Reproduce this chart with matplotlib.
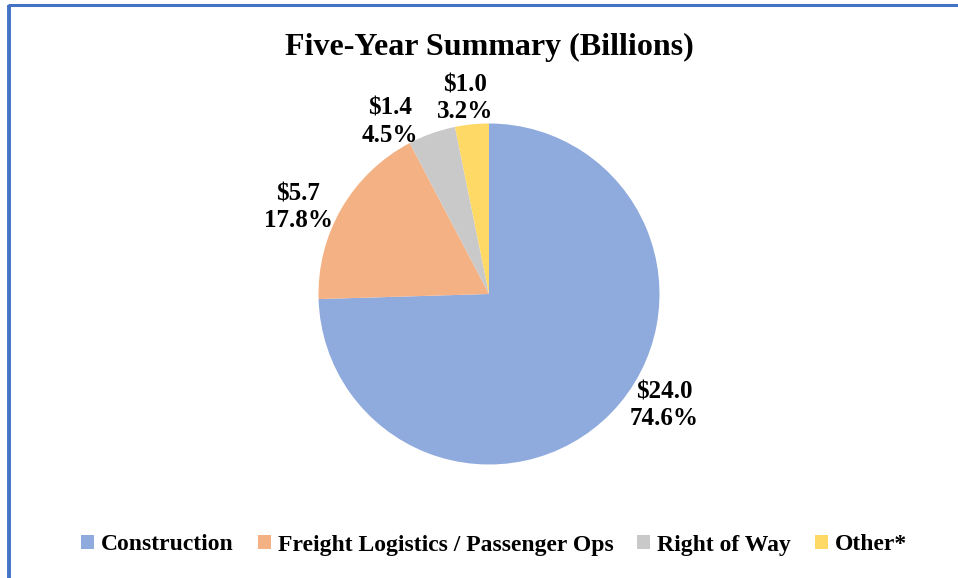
import matplotlib
matplotlib.use("Agg")
import matplotlib.pyplot as plt
from matplotlib.lines import Line2D
from matplotlib.patches import Patch

categories = ["Construction", "Freight Logistics / Passenger Ops", "Right of Way", "Other*"]
dollars = [24.0, 5.7, 1.4, 1.0]
percents = [74.6, 17.8, 4.5, 3.2]
colors = ["#8FAADC", "#F4B183", "#C9C9C9", "#FFD966"]
title = "Five-Year Summary (Billions)"

# label positions (axes data units, pie radius = 1)
label_pos = [(1.03, -0.65), (-1.12, 0.51), (-0.58, 1.01), (-0.14, 1.15)]

plt.rcParams['font.family'] = ['Liberation Serif', 'DejaVu Serif']
W, H = 958, 578
fig = plt.figure(figsize=(W / 100, H / 100), dpi=100)

cx, cy, r = 489, 294, 170.5
ax = fig.add_axes([(cx - r) / W, 1 - (cy + r) / H, 2 * r / W, 2 * r / H])
wedges, _ = ax.pie(percents, colors=colors, startangle=90, counterclock=False,
                   radius=1, wedgeprops=dict(linewidth=0))
ax.set_xlim(-1, 1)
ax.set_ylim(-1, 1)
ax.set_aspect('equal')
ax.axis('off')

for d, p, (x, y) in zip(dollars, percents, label_pos):
    ax.text(x, y, f"${d:.1f}\n{p:.1f}%", ha='center', va='center',
            fontsize=18, fontweight='bold', linespacing=1.2)

fig.text(489 / W, 1 - 47 / H, title, ha='center', va='center',
         fontsize=23, fontweight='bold')

handles = [Patch(facecolor=c, edgecolor='none') for c in colors]
fig.legend(handles, categories, loc='center', bbox_to_anchor=(494 / W, 1 - 545 / H),
           ncol=4, frameon=False, prop=dict(size=17, weight='bold'),
           handlelength=0.55, handleheight=0.55, handletextpad=0.3, columnspacing=1.0)

border = "#4472C4"
top_y = 1 - 5 / H
fig.add_artist(Line2D([7.5 / W, 1], [top_y, top_y], color=border, lw=2.2,
                      transform=fig.transFigure, solid_capstyle='butt'))
fig.add_artist(Line2D([9 / W, 9 / W], [top_y, 0], color=border, lw=2.8,
                      transform=fig.transFigure, solid_capstyle='butt'))

fig.savefig("out.png", dpi=100)
